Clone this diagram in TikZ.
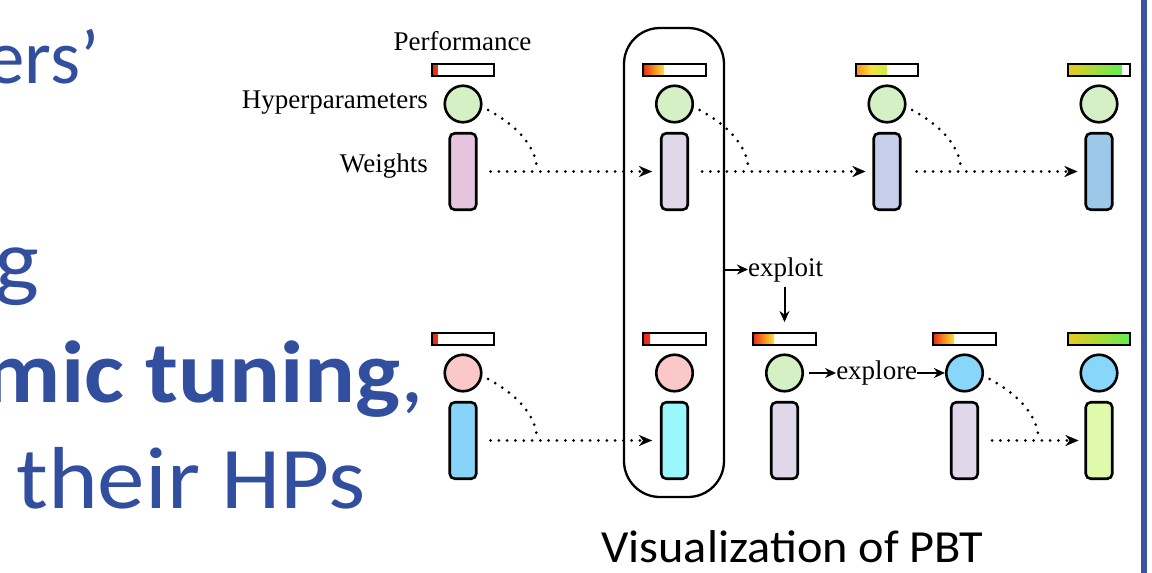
\documentclass[tikz,border=0pt]{standalone}
\usepackage{fontspec}
\setmainfont{Liberation Serif}
\newfontfamily\calibri[FakeStretch=1.08]{Carlito}
\newfontfamily\calibriplain{Carlito}
\newfontfamily\calibricap[FakeStretch=1.05]{Carlito}
\usetikzlibrary{arrows.meta,calc}
\definecolor{slideblue}{RGB}{50,78,158}
\definecolor{rulecol}{RGB}{58,82,164}
\definecolor{hpgreen}{RGB}{212,240,196}
\definecolor{hppink}{RGB}{250,200,200}
\definecolor{hpblue}{RGB}{136,214,250}
\definecolor{wpink}{RGB}{230,196,222}
\definecolor{wlav}{RGB}{224,216,234}
\definecolor{wperi}{RGB}{197,206,234}
\definecolor{wblue}{RGB}{156,200,234}
\definecolor{wsky}{RGB}{136,212,248}
\definecolor{wcyan}{RGB}{154,248,252}
\definecolor{wlime}{RGB}{222,250,170}
\definecolor{pred}{RGB}{232,40,24}
\definecolor{porange}{RGB}{245,140,30}
\definecolor{pyellow}{RGB}{250,225,60}
\definecolor{pgold}{RGB}{235,200,30}
\definecolor{pygreen}{RGB}{205,235,70}
\definecolor{pgreen}{RGB}{95,240,80}
\tikzset{
 hp/.style={circle, draw, line width=2.6pt, minimum size=36.5pt, inner sep=0pt},
 wt/.style={rectangle, rounded corners=5pt, draw, line width=2.6pt, minimum width=26.5pt, minimum height=76.5pt, inner sep=0pt},
 perf/.style={rectangle, draw, line width=2.4pt, minimum width=62.5pt, minimum height=11.5pt, inner sep=0pt},
 lbl/.style={inner sep=0pt, font=\fontsize{27}{30}\selectfont},
 dots/.style={line width=3pt, line cap=round, dash pattern=on 0pt off 8.3pt},
 dotarrow/.style={dots, -{Stealth[length=13pt,width=11pt,line width=0.1pt]}},
 solidarrow/.style={line width=2pt, -{Stealth[length=11pt,width=10pt]}},
 big/.style={inner sep=0pt, text=slideblue, font=\calibri\fontsize{88}{100}\selectfont},
}
\newcommand\agent[7]{%
 \shade[#5] ({#2-31.5},{#3-6}) rectangle ({#2-31.5+#4},{#3+6});
 \node[perf] (#1p) at (#2,#3) {};
 \node[hp, fill=#6] (#1h) at (#2,{#3+34}) {};
 \node[wt, fill=#7] (#1w) at (#2,{#3+101.5}) {};
}
\newcommand\hpcurve[1]{%
 \draw[dots] ($(#1h)+(25,6)$) .. controls +(24,13) and +(0,-28) .. ($(#1h.center |- #1w.center)+(74,0)$);
}
\begin{document}
\begin{tikzpicture}[x=1pt,y=-1pt]
\useasboundingbox (0,0) rectangle (1152,573);
% slide text
\begin{scope}
\clip (0,0) rectangle (1152,573);
\node[big, anchor=base east, font=\calibriplain\fontsize{77}{90}\selectfont] (t1) at (100,83) {ers’};
\node[big, anchor=base east] (t2) at (39,290) {g};
\node[big, anchor=base east] (t3) at (424,402) {\bfseries mic tuning\mdseries,};
\node[big, anchor=base west] (t4) at (16,508) {their HPs};
\end{scope}
\fill[rulecol] (1141,0) rectangle (1147,573);
% agents top row
\agent{T1}{463}{70}{6}{left color=pred,right color=pred!85!porange}{hpgreen}{wpink}
\agent{T2}{674.5}{70}{21}{left color=pred,right color=pyellow,middle color=porange}{hpgreen}{wlav}
\agent{T3}{887}{70}{31}{left color=porange,right color=pygreen,middle color=pyellow}{hpgreen}{wperi}
\agent{T4}{1099}{70}{54}{left color=pgold,right color=pgreen}{hpgreen}{wblue}
% agents bottom row
\agent{B1}{463}{339}{6}{left color=pred,right color=pred!85!porange}{hppink}{wsky}
\agent{B2}{674.5}{339}{7}{left color=pred,right color=pred!85!porange}{hppink}{wcyan}
\agent{B3}{784.5}{339}{21}{left color=pred,right color=pyellow,middle color=porange}{hpgreen}{wlav}
\agent{B4}{964.5}{339}{21}{left color=pred,right color=pyellow,middle color=porange}{hpblue}{wlav}
\agent{B5}{1099}{339}{63}{left color=pgold,right color=pgreen}{hpblue}{wlime}
% frame
\node[draw, line width=2.3pt, rounded corners=36pt, minimum width=100pt, minimum height=469pt, inner sep=0pt] (frame) at (674,262.5) {};
% labels
\node[lbl, anchor=base] (perfl) at (462.5,50) {Performance};
\node[lbl, anchor=base east] (hpl) at (428,108) {Hyperparameters};
\node[lbl, anchor=base east] (wl) at (428,172) {Weights};
% dotted connectors
\hpcurve{T1}\hpcurve{T2}\hpcurve{T3}\hpcurve{B1}\hpcurve{B4}
\draw[dotarrow, shorten <=13pt, shorten >=8pt] (T1w) -- (T2w);
\draw[dotarrow, shorten <=13pt, shorten >=7pt] (T2w) -- (T3w);
\draw[dotarrow, shorten <=15pt, shorten >=7pt] (T3w) -- (T4w);
\draw[dotarrow, shorten <=13pt, shorten >=8pt] (B1w) -- (B2w);
\draw[dotarrow, shorten <=13pt, shorten >=6pt] (B4w) -- (B5w);
% exploit / explore
\node[lbl, anchor=base west] (exploit) at (748,276) {exploit};
\draw[solidarrow] (frame.east |- exploit.west) -- (exploit.west);
\draw[solidarrow] ($(B3p.north |- exploit.south)+(0,5)$) -- ([yshift=10pt]B3p.north);
\node[lbl, anchor=west] (explore) at ([xshift=32pt]B3h.east) {explore};
\draw[solidarrow, shorten <=5pt] (B3h) -- (explore);
\draw[solidarrow] (explore) -- (B4h);
% caption
\node[inner sep=0pt, anchor=base west, font=\calibricap\fontsize{46}{52}\selectfont] (cap) at (601,562) {Visualization of PBT};
\end{tikzpicture}
\end{document}
